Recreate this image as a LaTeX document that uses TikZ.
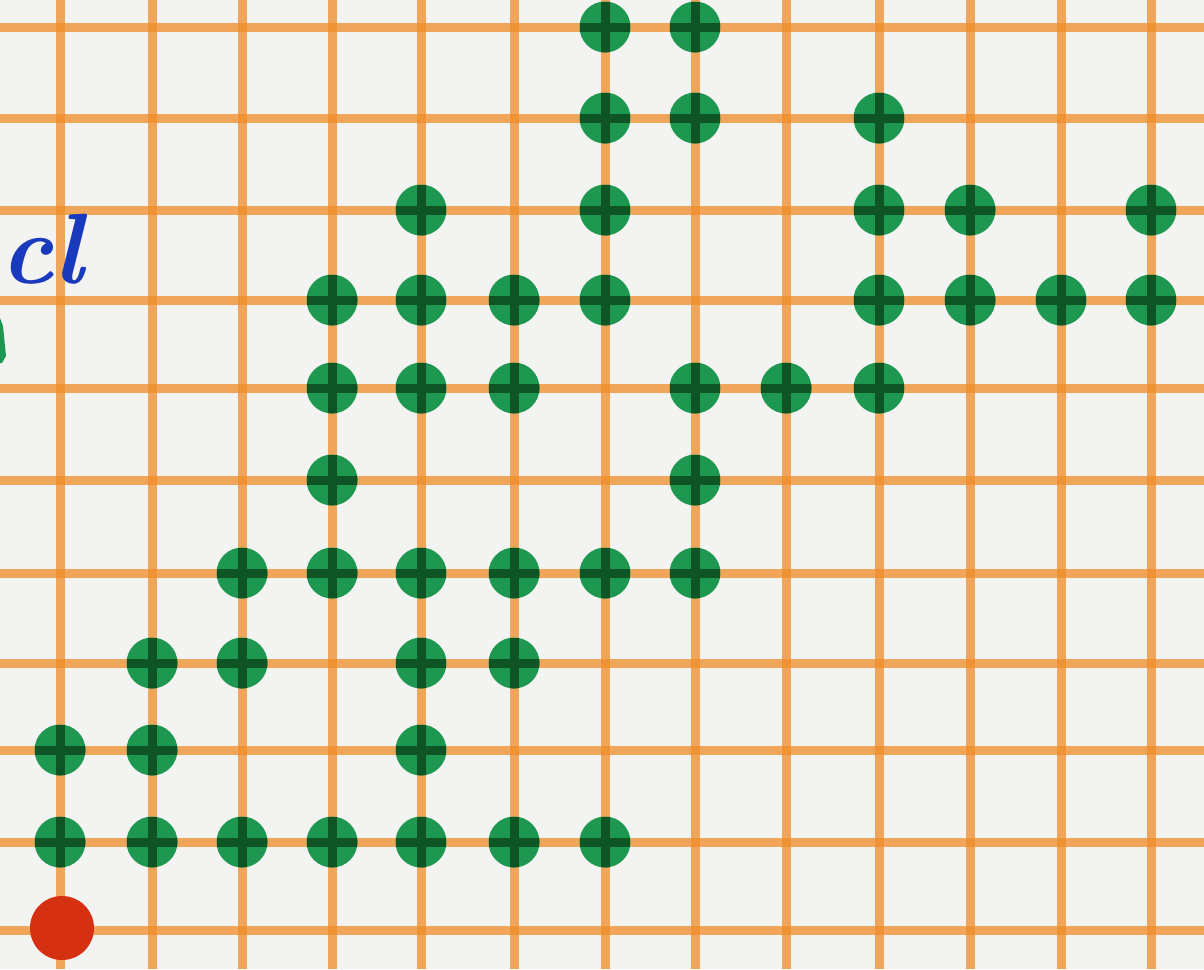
\documentclass[tikz,border=0pt]{standalone}
\usepackage{fontspec}
\definecolor{paper}{RGB}{243,243,241}
\definecolor{gridorange}{RGB}{238,140,40}
\definecolor{dotgreen}{RGB}{30,152,80}
\definecolor{crossgreen}{RGB}{14,84,36}
\definecolor{dotred}{RGB}{214,48,18}
\definecolor{inkblue}{RGB}{26,58,190}
\begin{document}
\begin{tikzpicture}[x=1pt,y=-1pt,
  gridline/.style={draw=gridorange, line width=9pt, opacity=0.75},
  gdot/.style={circle, fill=dotgreen, minimum size=51pt, inner sep=0pt,
    path picture={\draw[crossgreen, line width=9pt]
      (path picture bounding box.north) -- (path picture bounding box.south)
      (path picture bounding box.west) -- (path picture bounding box.east);}},
  rdot/.style={circle, fill=dotred, minimum size=64pt, inner sep=0pt},
  ink/.style={text=inkblue, font=\fontsize{100}{100}\selectfont\bfseries\itshape, inner sep=0pt, anchor=base west}]
\fill[paper] (0,0) rectangle (1204,969);
\useasboundingbox (0,0) rectangle (1204,969);
% grid
\foreach \x in {60,152,242,332,421,514,605,695,786,879,970,1061,1151}
  \draw[gridline] (\x,0) -- (\x,969);
\foreach \y in {27,118,210,300,388,480,573,663,750,842,930}
  \draw[gridline] (0,\y) -- (1204,\y);
% row 0
\node[gdot] (d0a) at (605,27) {};
\node[gdot] (d0b) at (695,27) {};
% row 1
\node[gdot] (d1a) at (605,118) {};
\node[gdot] (d1b) at (695,118) {};
\node[gdot] (d1c) at (879,118) {};
% row 2
\node[gdot] (d2a) at (421,210) {};
\node[gdot] (d2b) at (605,210) {};
\node[gdot] (d2c) at (879,210) {};
\node[gdot] (d2d) at (970,210) {};
\node[gdot] (d2e) at (1151,210) {};
% row 3
\node[gdot] (d3a) at (332,300) {};
\node[gdot] (d3b) at (421,300) {};
\node[gdot] (d3c) at (514,300) {};
\node[gdot] (d3d) at (605,300) {};
\node[gdot] (d3e) at (879,300) {};
\node[gdot] (d3f) at (970,300) {};
\node[gdot] (d3g) at (1061,300) {};
\node[gdot] (d3h) at (1151,300) {};
% row 4
\node[gdot] (d4a) at (332,388) {};
\node[gdot] (d4b) at (421,388) {};
\node[gdot] (d4c) at (514,388) {};
\node[gdot] (d4d) at (695,388) {};
\node[gdot] (d4e) at (786,388) {};
\node[gdot] (d4f) at (879,388) {};
% row 5
\node[gdot] (d5a) at (332,480) {};
\node[gdot] (d5b) at (695,480) {};
% row 6
\node[gdot] (d6a) at (242,573) {};
\node[gdot] (d6b) at (332,573) {};
\node[gdot] (d6c) at (421,573) {};
\node[gdot] (d6d) at (514,573) {};
\node[gdot] (d6e) at (605,573) {};
\node[gdot] (d6f) at (695,573) {};
% row 7
\node[gdot] (d7a) at (152,663) {};
\node[gdot] (d7b) at (242,663) {};
\node[gdot] (d7c) at (421,663) {};
\node[gdot] (d7d) at (514,663) {};
% row 8
\node[gdot] (d8a) at (60,750) {};
\node[gdot] (d8b) at (152,750) {};
\node[gdot] (d8c) at (421,750) {};
% row 9
\node[gdot] (d9a) at (60,842) {};
\node[gdot] (d9b) at (152,842) {};
\node[gdot] (d9c) at (242,842) {};
\node[gdot] (d9d) at (332,842) {};
\node[gdot] (d9e) at (421,842) {};
\node[gdot] (d9f) at (514,842) {};
\node[gdot] (d9g) at (605,842) {};
% red start dot
\node[rdot] (start) at (62,928) {};
% handwritten label
\node[ink] (lbl) at (0,283) {cl};
% cut-off green mark at left edge
\fill[dotgreen] (0,318) -- (3,326) -- (6,356) -- (2,363) -- (0,363) -- cycle;
\end{tikzpicture}
\end{document}
